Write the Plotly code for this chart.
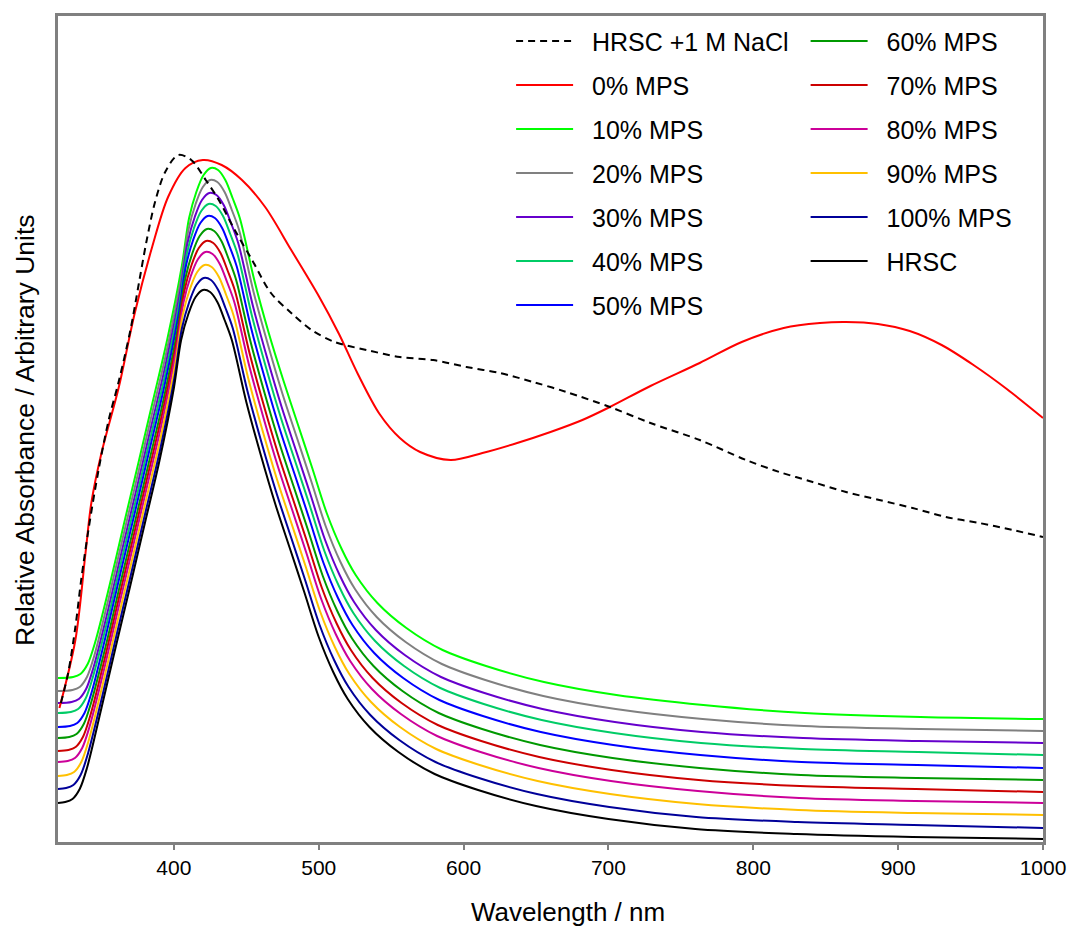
import plotly.graph_objects as go

FONT = "Liberation Sans, Arial, sans-serif"

# ---------------- data (relative absorbance, arbitrary units) ----------------
wl_nacl = [322, 327, 332, 336, 341, 348, 355, 362, 370, 376, 381, 387, 394, 403, 412, 422, 431, 442,
           454, 467, 481, 495, 511, 533, 556, 579, 602, 625, 648, 671, 701, 729, 763, 795, 818, 841,
           864, 887, 910, 933, 956, 979, 1000]
abs_nacl = [139, 169, 215, 262, 312, 372, 422, 461, 512, 560, 600, 640, 670, 687, 682, 662, 642, 612,
            582, 549, 529, 512, 500, 492, 485, 482, 475, 469, 460, 450, 435, 419, 402, 382, 370, 360,
            350, 342, 334, 325, 319, 312, 305]

wl_mps0 = [321, 332, 339, 343, 350, 362, 373, 385, 396, 408, 420, 433, 447, 463, 481, 500, 514, 527,
           542, 556, 570, 591, 613, 637, 660, 682, 701, 729, 763, 792, 821, 846, 864, 886, 908, 930,
           952, 975, 1000]
abs_mps0 = [134, 202, 289, 339, 389, 455, 529, 595, 645, 674, 682, 677, 662, 635, 592, 546, 508, 468,
            428, 404, 390, 382, 389, 399, 410, 422, 435, 456, 479, 500, 514, 519, 520, 518, 511, 497,
            477, 453, 424]

wl_mps10 = [320, 330.5, 335.5, 340.5, 345.5, 355.5, 365.5, 375.5, 385.5, 395.5, 405.5, 410.5, 415.5,
            420.5, 425.5, 430.5, 435.5, 440.5, 445.5, 455.5, 465.5, 475.5, 485.5, 495.5, 505.5, 515.5,
            525.5, 540.5, 560.5, 585.5, 615.5, 655.5, 705.5, 765.5, 835.5, 915.5, 1000]
abs_mps10 = [164, 165, 168, 178, 199, 256, 318, 379, 441, 503, 576, 624, 650, 667, 674, 672, 662, 644,
             624, 562, 509, 462, 418, 374, 329, 294, 267, 239, 214, 192, 176, 160, 147, 137, 129, 125,
             123]

wl_mps20 = [320, 330, 335, 340, 345, 355, 365, 375, 385, 395, 405, 410, 415, 420, 425, 430, 435, 440,
            445, 455, 465, 475, 485, 495, 505, 515, 525, 540, 560, 585, 615, 655, 705, 765, 835, 915,
            1000]
abs_mps20 = [151, 152, 155, 165, 186, 244, 306, 367, 429, 491, 564, 612, 638, 655, 662, 660, 650, 632,
             612, 550, 497, 448, 404, 360, 315, 280, 253, 225, 200, 178, 162, 146, 133, 123, 116, 113,
             111]

wl_mps30 = [320, 329.4, 334.4, 339.4, 344.4, 354.4, 364.4, 374.4, 384.4, 394.4, 404.4, 409.4, 414.4,
            419.4, 424.4, 429.4, 434.4, 439.4, 444.4, 454.4, 464.4, 474.4, 484.4, 494.4, 504.4, 514.4,
            524.4, 539.4, 559.4, 584.4, 614.4, 654.4, 704.4, 764.4, 834.4, 914.4, 1000]
abs_mps30 = [139, 140, 143, 153, 174, 231, 293, 354, 416, 478, 551, 599, 625, 642, 649, 647, 637, 619,
             599, 537, 484, 435, 391, 347, 302, 267, 240, 212, 187, 165, 149, 133, 120, 110, 104, 101,
             99]

wl_mps40 = [320, 328.9, 333.9, 338.9, 343.9, 353.9, 363.9, 373.9, 383.9, 393.9, 403.9, 408.9, 413.9,
            418.9, 423.9, 428.9, 433.9, 438.9, 443.9, 453.9, 463.9, 473.9, 483.9, 493.9, 503.9, 513.9,
            523.9, 538.9, 558.9, 583.9, 613.9, 653.9, 703.9, 763.9, 833.9, 913.9, 1000]
abs_mps40 = [129, 130, 133, 143, 164, 220, 282, 343, 405, 467, 540, 588, 614, 631, 638, 636, 626, 608,
             588, 526, 473, 424, 380, 336, 291, 256, 229, 201, 176, 154, 138, 122, 109, 99, 93, 90, 87]

wl_mps50 = [320, 328.3, 333.3, 338.3, 343.3, 353.3, 363.3, 373.3, 383.3, 393.3, 403.3, 408.3, 413.3,
            418.3, 423.3, 428.3, 433.3, 438.3, 443.3, 453.3, 463.3, 473.3, 483.3, 493.3, 503.3, 513.3,
            523.3, 538.3, 558.3, 583.3, 613.3, 653.3, 703.3, 763.3, 833.3, 913.3, 1000]
abs_mps50 = [115, 116, 119, 129, 150, 208, 270, 331, 393, 455, 528, 576, 602, 619, 626, 624, 614, 596,
             576, 514, 461, 412, 368, 324, 279, 244, 217, 189, 164, 142, 126, 110, 97, 87, 80, 77, 74]

wl_mps60 = [320, 327.8, 332.8, 337.8, 342.8, 352.8, 362.8, 372.8, 382.8, 392.8, 402.8, 407.8, 412.8,
            417.8, 422.8, 427.8, 432.8, 437.8, 442.8, 452.8, 462.8, 472.8, 482.8, 492.8, 502.8, 512.8,
            522.8, 537.8, 557.8, 582.8, 612.8, 652.8, 702.8, 762.8, 832.8, 912.8, 1000]
abs_mps60 = [104, 105, 108, 118, 139, 195, 257, 318, 380, 442, 515, 563, 589, 606, 613, 611, 601, 583,
             563, 501, 448, 399, 355, 311, 266, 231, 204, 176, 151, 129, 113, 97, 84, 74, 67, 64, 62]

wl_mps70 = [320, 327.2, 332.2, 337.2, 342.2, 352.2, 362.2, 372.2, 382.2, 392.2, 402.2, 407.2, 412.2,
            417.2, 422.2, 427.2, 432.2, 437.2, 442.2, 452.2, 462.2, 472.2, 482.2, 492.2, 502.2, 512.2,
            522.2, 537.2, 557.2, 582.2, 612.2, 652.2, 702.2, 762.2, 832.2, 912.2, 1000]
abs_mps70 = [91, 92, 95, 105, 126, 183, 245, 306, 368, 430, 503, 551, 577, 594, 601, 599, 589, 571,
             551, 489, 436, 387, 343, 299, 254, 219, 192, 164, 139, 117, 101, 85, 72, 62, 56, 53, 50]

wl_mps80 = [320, 326.7, 331.7, 336.7, 341.7, 351.7, 361.7, 371.7, 381.7, 391.7, 401.7, 406.7, 411.7,
            416.7, 421.7, 426.7, 431.7, 436.7, 441.7, 451.7, 461.7, 471.7, 481.7, 491.7, 501.7, 511.7,
            521.7, 536.7, 556.7, 581.7, 611.7, 651.7, 701.7, 761.7, 831.7, 911.7, 1000]
abs_mps80 = [80, 81, 84, 94, 115, 172, 234, 295, 357, 419, 492, 540, 566, 583, 590, 588, 578, 560,
             540, 478, 425, 376, 332, 288, 243, 208, 181, 153, 128, 106, 90, 74, 61, 51, 44, 41, 39]

wl_mps90 = [320, 326.1, 331.1, 336.1, 341.1, 351.1, 361.1, 371.1, 381.1, 391.1, 401.1, 406.1, 411.1,
            416.1, 421.1, 426.1, 431.1, 436.1, 441.1, 451.1, 461.1, 471.1, 481.1, 491.1, 501.1, 511.1,
            521.1, 536.1, 556.1, 581.1, 611.1, 651.1, 701.1, 761.1, 831.1, 911.1, 1000]
abs_mps90 = [66, 67, 70, 80, 101, 159, 221, 282, 344, 406, 479, 527, 553, 570, 577, 575, 565, 547,
             527, 465, 412, 363, 319, 275, 230, 195, 168, 140, 115, 93, 77, 61, 48, 38, 32, 29, 27]

wl_mps100 = [320, 325.6, 330.6, 335.6, 340.6, 350.6, 360.6, 370.6, 380.6, 390.6, 400.6, 405.6, 410.6,
             415.6, 420.6, 425.6, 430.6, 435.6, 440.6, 450.6, 460.6, 470.6, 480.6, 490.6, 500.6, 510.6,
             520.6, 535.6, 555.6, 580.6, 610.6, 650.6, 700.6, 760.6, 830.6, 910.6, 1000]
abs_mps100 = [53, 54, 57, 67, 88, 146, 208, 269, 331, 393, 466, 514, 540, 557, 564, 562, 552, 534,
              514, 452, 399, 350, 306, 262, 217, 182, 155, 127, 102, 80, 64, 48, 35, 25, 20, 17, 14]

wl_hrsc = [320, 325, 330, 335, 340, 350, 360, 370, 380, 390, 400, 405, 410, 415, 420, 425, 430, 435,
           440, 450, 460, 470, 480, 490, 500, 510, 520, 535, 555, 580, 610, 650, 700, 760, 830, 910,
           1000]
abs_hrsc = [39, 40, 43, 53, 74, 134, 196, 257, 319, 381, 454, 502, 528, 545, 552, 550, 540, 522,
            502, 440, 387, 338, 294, 250, 205, 170, 143, 115, 90, 68, 52, 36, 23, 13, 8, 5, 3]

x_ticks = [400, 500, 600, 700, 800, 900, 1000]

# name, x, y, colour, dash, legend, rank
series = [
    ("10% MPS", wl_mps10, abs_mps10, "#00FF00", "solid", "legend", 3),
    ("20% MPS", wl_mps20, abs_mps20, "#808080", "solid", "legend", 4),
    ("30% MPS", wl_mps30, abs_mps30, "#6600CC", "solid", "legend", 5),
    ("40% MPS", wl_mps40, abs_mps40, "#00CC66", "solid", "legend", 6),
    ("50% MPS", wl_mps50, abs_mps50, "#0000FF", "solid", "legend", 7),
    ("60% MPS", wl_mps60, abs_mps60, "#009900", "solid", "legend2", 8),
    ("70% MPS", wl_mps70, abs_mps70, "#CC0000", "solid", "legend2", 9),
    ("80% MPS", wl_mps80, abs_mps80, "#CC0099", "solid", "legend2", 10),
    ("90% MPS", wl_mps90, abs_mps90, "#FFC000", "solid", "legend2", 11),
    ("100% MPS", wl_mps100, abs_mps100, "#000099", "solid", "legend2", 12),
    ("HRSC", wl_hrsc, abs_hrsc, "#000000", "solid", "legend2", 13),
    ("0% MPS", wl_mps0, abs_mps0, "#FF0000", "solid", "legend", 2),
    ("HRSC +1 M NaCl", wl_nacl, abs_nacl, "#000000", "7px,5px", "legend", 1),
]

NBSP = "\u00a0"
fig = go.Figure()
for name, x, y, color, dash, leg, rank in series:
    fig.add_trace(go.Scatter(
        x=x, y=y, mode="lines", name=NBSP * 2 + name,
        line=dict(color=color, width=2, dash=dash, shape="spline", smoothing=0.9),
        legend=leg, legendgroup=name, legendrank=rank,
    ))

legend_common = dict(
    xanchor="left", yanchor="top", bgcolor="rgba(0,0,0,0)", borderwidth=0,
    font=dict(family=FONT, size=25, color="black"),
    traceorder="grouped", tracegroupgap=8.5, itemwidth=57,
)

fig.update_layout(
    width=1073, height=927,
    margin=dict(l=58, r=30, t=16, b=85, autoexpand=False),
    paper_bgcolor="white", plot_bgcolor="white",
    font=dict(family=FONT, color="black"),
    showlegend=True,
    legend=dict(x=0.460, y=0.9974, **legend_common),
    legend2=dict(x=0.759, y=0.9974, **legend_common),
    xaxis=dict(
        range=[320, 1000], tickvals=x_ticks, ticktext=[str(v) for v in x_ticks],
        ticks="outside", ticklen=5, tickwidth=2, tickcolor="#808080",
        tickfont=dict(family=FONT, size=21, color="black"),
        showline=True, linecolor="#808080", linewidth=3, mirror=True,
        showgrid=False, zeroline=False,
    ),
    yaxis=dict(
        range=[0, 826], showticklabels=False, ticks="",
        showline=True, linecolor="#808080", linewidth=3, mirror=True,
        showgrid=False, zeroline=False,
    ),
    annotations=[
        dict(text="Wavelength / nm", xref="paper", yref="paper", x=0.518, y=-0.0847,
             xanchor="center", yanchor="middle", showarrow=False,
             font=dict(family=FONT, size=26, color="black")),
        dict(text="Relative Absorbance / Arbitrary Units", xref="paper", yref="paper",
             x=-0.0335, y=0.4988, textangle=-90, xanchor="center", yanchor="middle",
             showarrow=False, font=dict(family=FONT, size=26.5, color="black")),
    ],
)

fig.write_html(
    "out.html",
    config={"displayModeBar": False},
    post_script="document.body.style.margin='0px';document.body.style.overflow='hidden';",
)
